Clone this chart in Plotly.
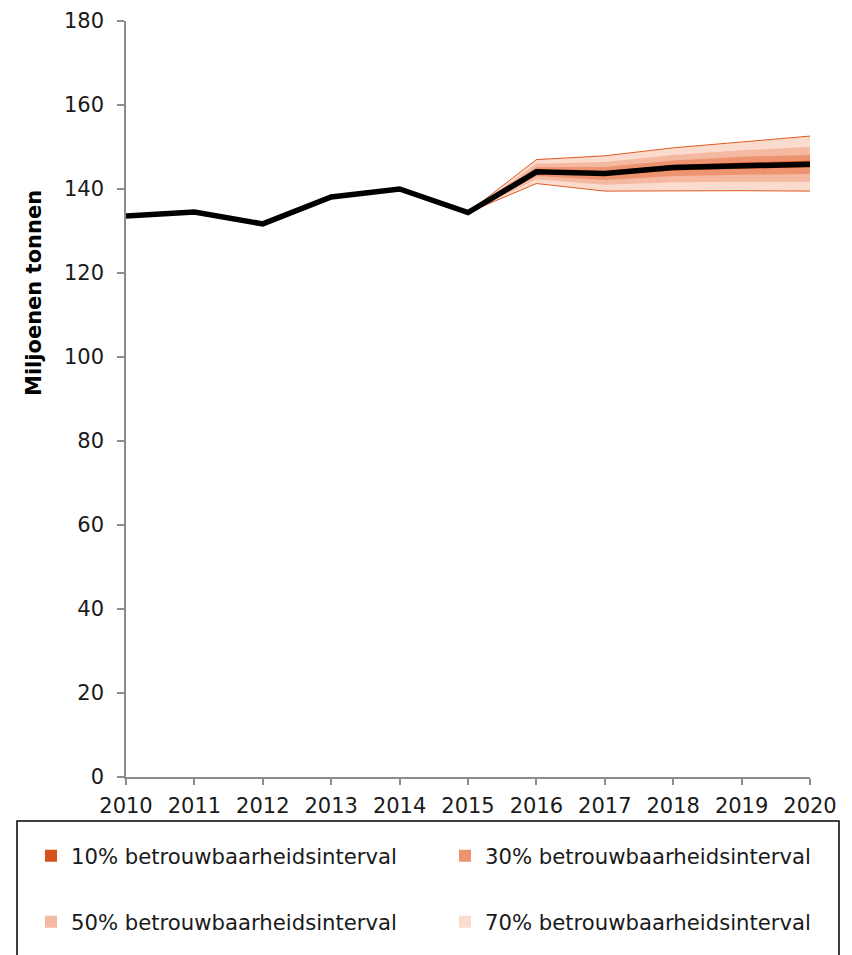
import plotly.graph_objects as go

# ---- data ----
years = [2010, 2011, 2012, 2013, 2014, 2015, 2016, 2017, 2018, 2019, 2020]
values = [133.6, 134.5, 131.7, 138.1, 140.0, 134.4, 144.1, 143.7, 145.1, 145.6, 145.9]

fan_years = [2015, 2016, 2017, 2018, 2019, 2020]
upper70 = [134.4, 147.0, 147.9, 149.8, 151.2, 152.6]
upper50 = [134.4, 146.0, 146.4, 148.1, 149.2, 150.0]
upper30 = [134.4, 145.2, 145.25, 146.8, 147.7, 148.1]
upper10 = [134.4, 144.45, 144.2, 145.7, 146.3, 146.7]
lower10 = [134.4, 143.75, 143.2, 144.4, 144.85, 145.1]
lower30 = [134.4, 143.1, 142.15, 143.1, 143.4, 143.6]
lower50 = [134.4, 142.3, 141.0, 141.6, 141.7, 141.7]
lower70 = [134.4, 141.3, 139.5, 139.6, 139.6, 139.5]

band_labels = ["10% betrouwbaarheidsinterval", "30% betrouwbaarheidsinterval",
               "50% betrouwbaarheidsinterval", "70% betrouwbaarheidsinterval"]
y_ticks = [0, 20, 40, 60, 80, 100, 120, 140, 160, 180]
y_title = "Miljoenen tonnen"

# ---- styles ----
FONT = "Verdana, 'DejaVu Sans', sans-serif"
col10 = "#D6521C"
col30 = "#EE9370"
col50 = "#F5B8A0"
col70 = "#FADBCE"
edge = "#E05A20"
axis_col = "#8C8C8C"
text_col = "#1a1a1a"

fig = go.Figure()

bands = [(upper70, lower70, col70), (upper50, lower50, col50),
         (upper30, lower30, col30), (upper10, lower10, col10)]
for up, lo, c in bands:
    fig.add_trace(go.Scatter(
        x=fan_years + fan_years[::-1], y=up + lo[::-1],
        fill="toself", fillcolor=c, mode="none", showlegend=False,
        hoverinfo="skip"))

for b in (upper70, lower70):
    fig.add_trace(go.Scatter(x=fan_years, y=b, mode="lines",
                             line=dict(color=edge, width=1), showlegend=False,
                             hoverinfo="skip"))

fig.add_trace(go.Scatter(x=years, y=values, mode="lines",
                         line=dict(color="#000000", width=5.5), showlegend=False))

L, R, T, B = 126, 42, 21, 178
W, H = 852, 955
pw = W - L - R
ph = H - T - B


def px_x(p):
    return (p - L) / pw


def px_y(p):
    return (H - B - p) / ph


# legend entries: one legend per entry, placed in a 2x2 grid
legend_cols = [col10, col30, col50, col70]
legend_ids = ["legend", "legend2", "legend3", "legend4"]
legend_pos = [(31, 856), (445, 856), (31, 922), (445, 922)]
legend_layout = {}
for lab, c, lid, (lx, ly) in zip(band_labels, legend_cols, legend_ids, legend_pos):
    fig.add_trace(go.Scatter(x=[None], y=[None], mode="markers", name=lab,
                             marker=dict(symbol="square", size=12, color=c,
                                         line=dict(width=0)),
                             legend=lid))
    legend_layout[lid] = dict(orientation="h", xanchor="left", yanchor="middle",
                              x=px_x(lx), y=px_y(ly),
                              font=dict(family=FONT, size=21.2, color=text_col),
                              bgcolor="rgba(0,0,0,0)", borderwidth=0)

fig.update_layout(
    width=W, height=H,
    margin=dict(l=L, r=R, t=T, b=B, pad=0, autoexpand=False),
    paper_bgcolor="white", plot_bgcolor="white",
    font=dict(family=FONT, size=21, color=text_col),
    xaxis=dict(range=[2010, 2020], tickmode="array", tickvals=years,
               ticktext=[str(y) for y in years],
               showgrid=False, zeroline=False, showline=True,
               linecolor=axis_col, linewidth=1.5,
               ticks="outside", ticklen=6, tickcolor=axis_col, tickwidth=1.5,
               ticklabelstandoff=3,
               tickfont=dict(family=FONT, size=21, color=text_col)),
    yaxis=dict(range=[0, 180], tickmode="array", tickvals=y_ticks,
               showgrid=False, zeroline=False, showline=True,
               linecolor=axis_col, linewidth=1.5,
               ticks="outside", ticklen=7, tickcolor=axis_col, tickwidth=1.5,
               ticklabelstandoff=9,
               tickfont=dict(family=FONT, size=21, color=text_col)),
    annotations=[dict(text="<b>" + y_title + "</b>", textangle=-90,
                      xref="paper", yref="paper", x=px_x(34), y=px_y(293),
                      xanchor="center", yanchor="middle", showarrow=False,
                      font=dict(family=FONT, size=21, color="#000000"))],
    showlegend=True,
    shapes=[dict(type="rect", xref="paper", yref="paper",
                 x0=px_x(17), x1=px_x(839), y0=px_y(1000), y1=px_y(821),
                 line=dict(color="#000000", width=1.5),
                 fillcolor="rgba(0,0,0,0)", layer="above")],
    **legend_layout,
)

fig.write_html("out.html", config={"displayModeBar": False},
               post_script="document.body.style.margin='0';")
